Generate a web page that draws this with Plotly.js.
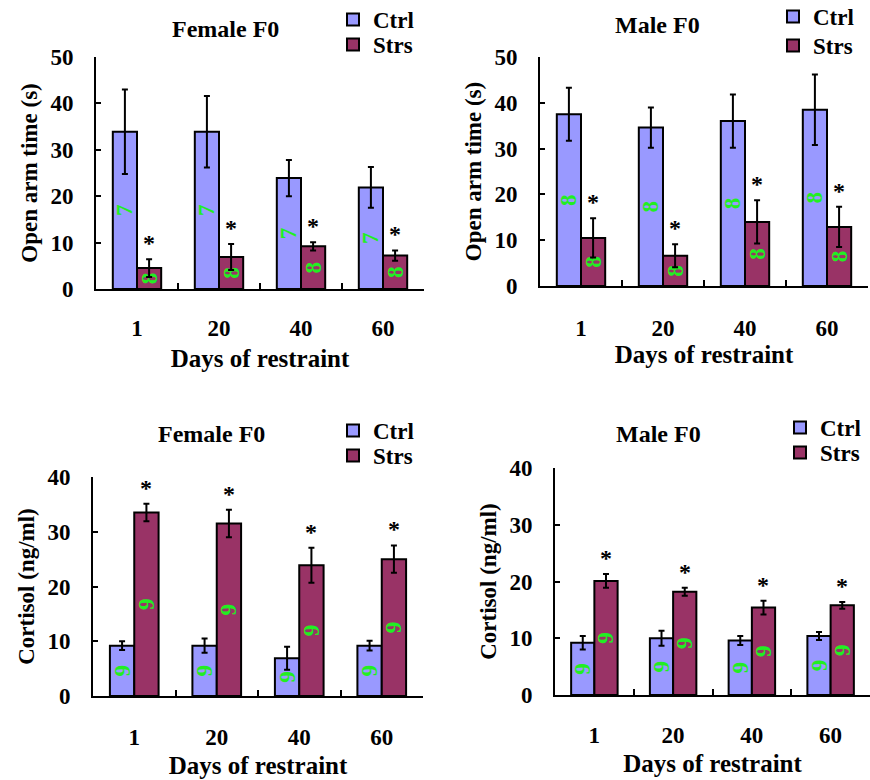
<!DOCTYPE html>
<html>
<head>
<meta charset="utf-8">
<script src="https://cdn.plot.ly/plotly-3.0.1.min.js"></script>
<style>html,body{margin:0;padding:0;background:#fff;}#chart{width:870px;height:780px;}</style>
</head>
<body>
<div id="chart"></div>
<script>
// ---------- data ----------
const days = ["1", "20", "40", "60"];
const seriesNames = ["Ctrl", "Strs"];

// Open arm time (s)
const femaleOpenCtrl    = [33.9, 33.9, 23.9, 21.9];
const femaleOpenCtrlErr = [9.1, 7.7, 3.9, 4.4];
const femaleOpenStrs    = [4.5, 6.9, 9.2, 7.2];
const femaleOpenStrsErr = [1.9, 2.8, 0.9, 1.1];
const femaleOpenNCtrl   = ["7", "7", "7", "7"];
const femaleOpenNStrs   = ["8", "8", "8", "8"];

const maleOpenCtrl    = [37.5, 34.6, 36.0, 38.5];
const maleOpenCtrlErr = [5.8, 4.4, 5.8, 7.7];
const maleOpenStrs    = [10.5, 6.6, 14.0, 12.9];
const maleOpenStrsErr = [4.3, 2.5, 4.7, 4.4];
const maleOpenNCtrl   = ["8", "8", "8", "8"];
const maleOpenNStrs   = ["8", "8", "8", "8"];

// Cortisol (ng/ml)
const femaleCortCtrl    = [9.2, 9.2, 6.9, 9.2];
const femaleCortCtrlErr = [0.8, 1.3, 2.1, 0.9];
const femaleCortStrs    = [33.5, 31.5, 23.9, 25.0];
const femaleCortStrsErr = [1.6, 2.5, 3.2, 2.5];
const femaleCortNCtrl   = ["9", "9", "9", "9"];
const femaleCortNStrs   = ["9", "9", "9", "9"];

const maleCortCtrl    = [9.2, 10.0, 9.6, 10.4];
const maleCortCtrlErr = [1.2, 1.3, 0.8, 0.7];
const maleCortStrs    = [20.1, 18.2, 15.4, 15.8];
const maleCortStrsErr = [1.2, 0.7, 1.2, 0.6];
const maleCortNCtrl   = ["9", "9", "9", "9"];
const maleCortNStrs   = ["9", "9", "9", "9"];

const significant = ["*", "*", "*", "*"];

const panelTitles = ["Female F0", "Male F0", "Female F0", "Male F0"];
const yTitles = ["Open arm time (s)", "Open arm time (s)", "Cortisol (ng/ml)", "Cortisol (ng/ml)"];
const xTitle = "Days of restraint";

// ---------- styling ----------
const W = 870, H = 780;
const FONT = "Liberation Serif, Times New Roman, serif";
const CTRL_COLOR = "#9999ff";
const STRS_COLOR = "#993366";
const GREEN = "#22ee22";
const BARGAP = 0.41;

// panel geometry in pixels
const panels = [
  {x0: 96,  x1: 424, yb: 289, yt: 57,  ymax: 50},
  {x0: 540, x1: 868, yb: 286, yt: 57,  ymax: 50},
  {x0: 93,  x1: 423, yb: 696, yt: 477, ymax: 40},
  {x0: 555, x1: 870, yb: 695, yt: 468, ymax: 40}
];

const data = [
  [femaleOpenCtrl, femaleOpenCtrlErr, femaleOpenNCtrl, femaleOpenStrs, femaleOpenStrsErr, femaleOpenNStrs],
  [maleOpenCtrl, maleOpenCtrlErr, maleOpenNCtrl, maleOpenStrs, maleOpenStrsErr, maleOpenNStrs],
  [femaleCortCtrl, femaleCortCtrlErr, femaleCortNCtrl, femaleCortStrs, femaleCortStrsErr, femaleCortNStrs],
  [maleCortCtrl, maleCortCtrlErr, maleCortNCtrl, maleCortStrs, maleCortStrsErr, maleCortNStrs]
];

// legend entry positions (left px, top px) for [Ctrl, Strs] of each panel
const legendPos = [
  [{x: 333, y: -2},  {x: 333, y: 23}],
  [{x: 773, y: -5},  {x: 773, y: 24}],
  [{x: 333, y: 409}, {x: 333, y: 434}],
  [{x: 780, y: 406}, {x: 780, y: 431}]
];
const titlePos = [
  {x: 225, y: 29}, {x: 657, y: 25}, {x: 211, y: 434}, {x: 658, y: 434}
];
const xTitleStandoff = [10, 5, 8, 8];
const xLabelStandoff = [17, 20, 19, 18];

const traces = [];
const annotations = [];
const layout = {
  width: W, height: H,
  margin: {l: 0, r: 0, t: 0, b: 0, autoexpand: false},
  paper_bgcolor: "#ffffff",
  plot_bgcolor: "rgba(0,0,0,0)",
  showlegend: true,
  barmode: "group",
  bargap: BARGAP,
  bargroupgap: 0,
  uniformtext: {mode: "show", minsize: 23},
  font: {family: FONT, size: 22, color: "#000", weight: "bold"},
  annotations: annotations
};

function legendName(n) { return n === 1 ? "legend" : "legend" + n; }

panels.forEach((p, i) => {
  const k = i === 0 ? "" : String(i + 1);
  const xa = "x" + k, ya = "y" + k;
  const legC = legendName(2 * i + 1);
  const legS = legendName(2 * i + 2);
  const [cV, cE, cN, sV, sE, sN] = data[i];

  const common = {
    type: "bar", x: days, xaxis: xa, yaxis: ya, showlegend: true,
    textposition: "inside", insidetextanchor: "middle", textangle: -90,
    constraintext: "none",
    textfont: {family: FONT, size: 23, color: GREEN, weight: "bold"},
    hoverinfo: "skip", cliponaxis: false
  };
  traces.push(Object.assign({}, common, {
    name: seriesNames[0], y: cV, text: cN, legend: legC,
    marker: {color: CTRL_COLOR, line: {color: "#000", width: 2}},
    error_y: {type: "data", array: cE, visible: true, color: "#000", thickness: 2, width: 3}
  }));
  traces.push(Object.assign({}, common, {
    name: seriesNames[1], y: sV, text: sN, legend: legS,
    marker: {color: STRS_COLOR, line: {color: "#000", width: 2}},
    error_y: {type: "data", array: sE, visible: true, color: "#000", thickness: 2, width: 3}
  }));

  const catPx = (p.x1 - p.x0) / days.length;
  const barPx = catPx * (1 - BARGAP) / 2;

  days.forEach((d, j) => {
    annotations.push({
      xref: xa, yref: ya, x: j, y: sV[j] + sE[j],
      xshift: barPx / 2, yshift: 16, text: significant[j], showarrow: false,
      font: {family: FONT, size: 24, color: "#000", weight: "bold"}
    });
  });

  annotations.push({
    xref: "paper", yref: "paper", x: titlePos[i].x / W, y: 1 - titlePos[i].y / H,
    xanchor: "center", yanchor: "middle", text: panelTitles[i], showarrow: false,
    font: {family: FONT, size: 24, color: "#000", weight: "bold"}
  });

  layout["xaxis" + k] = {
    domain: [p.x0 / W, Math.min(p.x1 / W, 1)],
    anchor: ya, type: "category", categoryorder: "array", categoryarray: days,
    range: [-0.5, days.length - 0.5], autorange: false,
    tickson: "boundaries",
    ticks: "inside", ticklen: 6, tickwidth: 2, tickcolor: "#000",
    showline: true, linecolor: "#000", linewidth: 2,
    showgrid: false, zeroline: false,
    ticklabelstandoff: xLabelStandoff[i],
    tickfont: {family: FONT, size: 23, color: "#000", weight: "bold"},
    title: {text: xTitle, standoff: xTitleStandoff[i], font: {family: FONT, size: 25, color: "#000", weight: "bold"}},
    fixedrange: true
  };
  layout["yaxis" + k] = {
    domain: [1 - p.yb / H, 1 - p.yt / H],
    anchor: xa, range: [0, p.ymax], autorange: false, dtick: 10,
    ticks: "inside", ticklen: 5, tickwidth: 2, tickcolor: "#000",
    showline: true, linecolor: "#000", linewidth: 2,
    showgrid: false, zeroline: false,
    ticklabelstandoff: 16,
    tickfont: {family: FONT, size: 23, color: "#000", weight: "bold"},
    title: {text: yTitles[i], standoff: 6, font: {family: FONT, size: 23, color: "#000", weight: "bold"}},
    fixedrange: true
  };
  [legC, legS].forEach((lg, m) => {
    const pos = legendPos[i][m];
    layout[lg] = {
      visible: true,
      x: pos.x / W, y: 1 - pos.y / H, xanchor: "left", yanchor: "top",
      bgcolor: "rgba(0,0,0,0)", borderwidth: 0,
      font: {family: FONT, size: 23, color: "#000", weight: "bold"},
      itemwidth: 30, tracegroupgap: 0
    };
  });
});

Plotly.newPlot("chart", traces, layout, {staticPlot: true, displayModeBar: false});
</script>
</body>
</html>
